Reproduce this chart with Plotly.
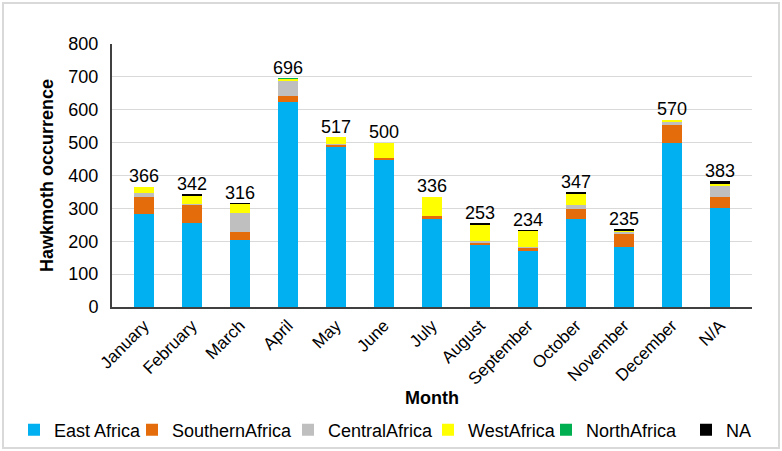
import plotly.graph_objects as go

months = ["January", "February", "March", "April", "May", "June", "July",
          "August", "September", "October", "November", "December", "N/A"]
east_africa = [282, 255, 204, 625, 487, 447, 269, 189, 170, 267, 184, 499, 301]
southern_africa = [52, 56, 24, 17, 8, 7, 8, 5, 10, 30, 38, 56, 35]
central_africa = [12, 2, 58, 46, 2, 0, 0, 8, 2, 12, 7, 10, 33]
west_africa = [20, 27, 28, 6, 20, 46, 59, 49, 50, 35, 4, 5, 6]
north_africa = [0, 0, 0, 2, 0, 0, 0, 0, 0, 0, 0, 0, 0]
na_region = [0, 2, 2, 0, 0, 0, 0, 2, 2, 3, 2, 0, 8]
totals = [366, 342, 316, 696, 517, 500, 336, 253, 234, 347, 235, 570, 383]

series = [
    ("East Africa", east_africa, "#00B0F0"),
    ("SouthernAfrica", southern_africa, "#E46C0A"),
    ("CentralAfrica", central_africa, "#BFBFBF"),
    ("WestAfrica", west_africa, "#FFFF00"),
    ("NorthAfrica", north_africa, "#00B050"),
    ("NA", na_region, "#000000"),
]
legend_text_x = [56, 174, 330, 470, 588, 728]

W, H = 782, 451
l, r, t, b = 112, 30, 44, 144
pw, ph = W - l - r, H - t - b

fig = go.Figure()
legends = {}
for i, (name, vals, col) in enumerate(series):
    key = "legend" if i == 0 else f"legend{i + 1}"
    fig.add_trace(go.Bar(x=months, y=vals, name=name, marker_color=col,
                         marker_line_width=0, legend=key))
    legends[key] = dict(orientation="h", xref="container", yref="container",
                        x=(legend_text_x[i] - 42) / W, xanchor="left",
                        y=1 - 430 / H, yanchor="middle",
                        font=dict(size=18), itemwidth=30,
                        bgcolor="rgba(0,0,0,0)")

fig.add_trace(go.Scatter(x=months, y=totals, mode="text", text=[str(v) for v in totals],
                         textposition="top center", showlegend=False,
                         textfont=dict(size=18, color="#000000")))

fig.update_layout(
    width=W, height=H,
    barmode="stack", bargap=0.59,
    plot_bgcolor="white", paper_bgcolor="white",
    margin=dict(l=l, r=r, t=t, b=b, autoexpand=False),
    font=dict(family="Liberation Sans, Arial", size=18, color="#000000"),
    shapes=[dict(type="rect", xref="paper", yref="paper",
                 x0=-(l - 3) / pw, x1=1 + (r - 3) / pw,
                 y0=-(b - 3) / ph, y1=1 + (t - 3) / ph,
                 line=dict(color="#D9D9D9", width=2))],
    **legends,
)
fig.update_yaxes(range=[0, 800], dtick=100, showgrid=True, gridcolor="#D9D9D9",
                 showline=True, linecolor="#404040", linewidth=2, automargin=False,
                 ticks="", ticklabelstandoff=8, tickfont=dict(size=18),
                 title=dict(text="<b>Hawkmoth occurrence</b>", font=dict(size=18), standoff=10))
fig.update_xaxes(showline=True, linecolor="#404040", linewidth=2, tickangle=-45,
                 automargin=False, ticks="", tickfont=dict(size=17),
                 title=dict(text="<b>Month</b>", font=dict(size=18), standoff=4))

fig.write_html("out.html", config={"displayModeBar": False},
               post_script="document.body.style.margin='0';")
